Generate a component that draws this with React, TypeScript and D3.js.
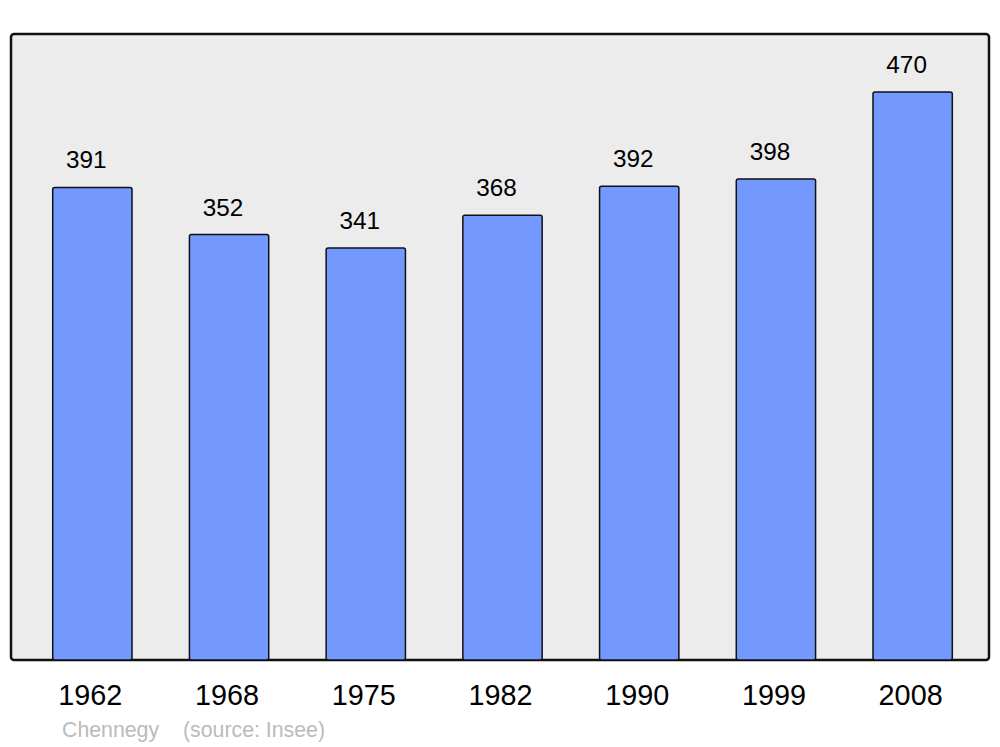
import React from "react";
import * as d3 from "d3";

const years = ["1962", "1968", "1975", "1982", "1990", "1999", "2008"];
const population = [391, 352, 341, 368, 392, 398, 470];
const placeName = "Chennegy";
const sourceText = "(source: Insee)";

export default function App() {
  const W = 1000, H = 747;
  const frame = { x: 11, y: 34, w: 978, h: 626 };
  const x = d3.scaleBand<string>().domain(years).range([24, 981]).paddingInner(0.42).paddingOuter(0.21);
  const y = d3.scaleLinear().domain([0, 518]).range([frame.y + frame.h, frame.y]);
  const font = "'Liberation Sans', Arial, sans-serif";
  return (
    <svg width={W} height={H} style={{ position: "absolute", left: 0, top: 0 }} fontFamily={font}>
      <rect x={0} y={0} width={W} height={H} fill="#ffffff" />
      <rect x={frame.x} y={frame.y} width={frame.w} height={frame.h} rx={3} fill="#ececec" stroke="#111" strokeWidth={2.5} />
      {years.map((yr, i) => {
        const bx = x(yr)!;
        const by = y(population[i]);
        return (
          <g key={yr}>
            <rect x={bx} y={by} width={x.bandwidth()} height={y(0) - by} rx={2} fill="#7399ff" stroke="#111" strokeWidth={1.5} />
            <text x={bx + x.bandwidth() / 2 - 6} y={by - 19} textAnchor="middle" fontSize={24.3} fill="#000">{population[i]}</text>
            <text x={bx + x.bandwidth() / 2 - 2} y={705} textAnchor="middle" fontSize={28.8} fill="#000">{yr}</text>
          </g>
        );
      })}
      <text x={62} y={737} fontSize={21.3} fill="#bbbbbb">{placeName}</text>
      <text x={183} y={737} fontSize={21.3} fill="#bbbbbb">{sourceText}</text>
    </svg>
  );
}
